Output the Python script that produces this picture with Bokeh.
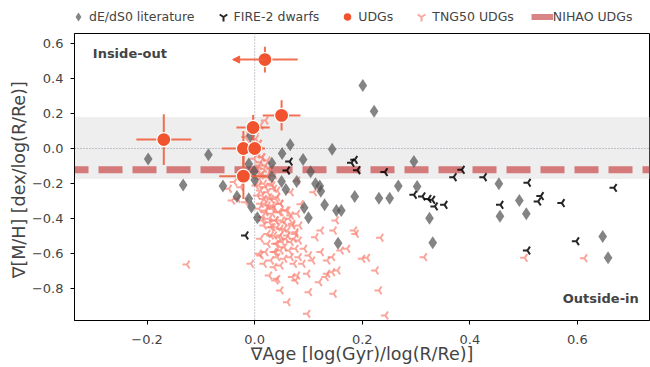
import numpy as np
from bokeh.plotting import figure
from bokeh.layouts import column
from bokeh.models import (ColumnDataSource, BoxAnnotation, Span, Label, Legend, LegendItem,
                          FixedTicker, Arrow, NormalHead)
from bokeh.embed import file_html
from bokeh.resources import INLINE

# ---------------- data ----------------
lit_x = [-0.198, -0.133, -0.086, -0.059, -0.033, -0.011, -0.006, 0.005, -0.008, -0.011,
         0.000, 0.032, 0.051, 0.066, 0.090, 0.104, 0.032, 0.050, 0.078, 0.058,
         0.113, 0.121, 0.123, 0.130, 0.100, 0.092, 0.152, 0.161, 0.155, 0.144,
         0.201, 0.222, 0.186, 0.231, 0.251, 0.267, 0.296, 0.302, 0.325, 0.331,
         0.454, 0.456, 0.492, 0.505, 0.647, 0.657, -0.001]
lit_y = [-0.060, -0.208, -0.036, -0.215, -0.275, -0.287, -0.335, -0.396, 0.072, -0.088,
         -0.180, -0.084, -0.028, 0.022, -0.063, -0.133, -0.162, -0.189, -0.188, -0.235,
         -0.202, -0.215, -0.244, -0.322, -0.396, -0.339, -0.354, -0.354, -0.541, -0.004,
         0.360, 0.213, -0.274, -0.285, -0.285, -0.215, -0.074, -0.217, -0.398, -0.539,
         -0.202, -0.387, -0.297, -0.373, -0.503, -0.625, -0.131]

fire_x = [0.065, 0.060, 0.180, 0.186, 0.191, -0.017, 0.242, 0.296, 0.312, 0.323,
          0.330, 0.335, 0.353, 0.385, 0.370, 0.426, 0.457, 0.508, 0.668, 0.532,
          0.527, 0.571, 0.598, 0.507]
fire_y = [-0.075, -0.126, -0.082, -0.065, -0.124, -0.497, -0.135, -0.265, -0.274, -0.288,
          -0.293, -0.331, -0.322, -0.122, -0.164, -0.164, -0.322, -0.196, -0.225, -0.272,
          -0.303, -0.312, -0.530, -0.583]

tng_x = [-0.017, -0.007, 0.002, 0.008, -0.004, 0.005, 0.014, -0.001, 0.011, 0.020,
         0.005, -0.004, 0.014, 0.024, 0.008, 0.017, 0.030, 0.002, 0.011, 0.024,
         0.036, 0.005, 0.017, 0.030, 0.042, 0.011, 0.024, 0.036, 0.048, 0.020,
         0.033, 0.048, 0.061, 0.014, 0.027, 0.039, 0.051, 0.064, 0.030, 0.042,
         0.055, 0.070, 0.024, 0.036, 0.048, 0.061, 0.076, 0.011, 0.024, 0.039,
         0.051, 0.067, 0.082, 0.008, 0.020, 0.036, 0.048, 0.064, 0.076, 0.092,
         0.030, 0.042, 0.055, 0.067, 0.082, 0.101, 0.017, 0.036, 0.048, 0.073,
         0.089, 0.107, 0.123, 0.135, 0.144, 0.160, 0.027, 0.042, 0.070, 0.079,
         0.098, 0.135, 0.144, 0.154, 0.039, 0.076, 0.120, 0.132, 0.048, 0.101,
         0.147, 0.061, 0.098, 0.225, 0.231, 0.200, 0.209, 0.185, 0.188, 0.172,
         0.151, 0.147, 0.123, 0.113, -0.007, 0.011, -0.038, -0.032, -0.126, -0.017, -0.042,
         0.002, 0.011, 0.020, -0.004, 0.008, 0.005, 0.014, 0.024, 0.008, 0.017,
         0.030, 0.011, 0.024, 0.036, 0.008, 0.020, 0.033, 0.042, 0.014, 0.027,
         0.039, 0.020, 0.033, 0.048, -0.048, -0.026,
         0.008, 0.020, 0.033, 0.045, 0.058, 0.067, 0.079, 0.014, 0.027, 0.039,
         0.055, 0.070, 0.083, 0.017, 0.033, 0.048, 0.061, 0.076, 0.030, 0.045,
         0.058, 0.073, 0.042, 0.055, 0.039,
         0.079, 0.067, 0.110, 0.086, 0.234, 0.243, 0.502, 0.613, 0.315]
tng_y = [0.065, 0.093, 0.055, 0.027, 0.008, -0.021, -0.050, -0.059, -0.078, -0.097,
         -0.116, -0.145, -0.145, -0.154, -0.173, -0.202, -0.202, -0.211, -0.240, -0.250,
         -0.230, -0.269, -0.288, -0.288, -0.278, -0.316, -0.326, -0.335, -0.316, -0.364,
         -0.373, -0.364, -0.354, -0.411, -0.421, -0.411, -0.411, -0.402, -0.450, -0.450,
         -0.459, -0.440, -0.488, -0.497, -0.497, -0.497, -0.488, -0.516, -0.545, -0.545,
         -0.535, -0.535, -0.526, -0.602, -0.592, -0.592, -0.583, -0.583, -0.573, -0.573,
         -0.640, -0.621, -0.630, -0.621, -0.621, -0.611, -0.659, -0.678, -0.669, -0.659,
         -0.659, -0.640, -0.592, -0.640, -0.621, -0.583, -0.726, -0.745, -0.735, -0.726,
         -0.716, -0.716, -0.707, -0.697, -0.754, -0.754, -0.764, -0.735, -0.811, -0.821,
         -0.830, -0.878, -0.945, -0.697, -0.811, -0.630, -0.625, -0.469, -0.488, -0.573,
         -0.411, -0.469, -0.469, -0.507, -0.659, -0.611, -0.192, -0.288, -0.663, -0.307, -0.297,
         0.103, 0.131, 0.160, 0.036, 0.027, -0.030, -0.050, -0.069, -0.097, -0.116,
         -0.116, -0.154, -0.164, -0.154, -0.211, -0.221, -0.211, -0.240, -0.269, -0.278,
         -0.288, -0.316, -0.326, -0.316, -0.230, -0.221,
         -0.345, -0.354, -0.345, -0.364, -0.354, -0.383, -0.373, -0.392, -0.402, -0.411,
         -0.421, -0.430, -0.440, -0.440, -0.450, -0.459, -0.469, -0.478, -0.497, -0.507,
         -0.516, -0.516, -0.545, -0.564, -0.592,
         -0.183, -0.250, -0.250, -0.318, -0.510, -0.954, -0.625, -0.627, -0.621]

udg_x = [0.019, -0.169, 0.050, -0.003, -0.021, 0.000, -0.021]
udg_y = [0.508, 0.051, 0.189, 0.120, 0.000, 0.000, -0.158]
udg_xerr_lo = [0.060, 0.051, 0.035, 0.031, 0.040, 0.015, 0.045]
udg_xerr_hi = [0.061, 0.051, 0.035, 0.031, 0.040, 0.015, 0.045]
udg_yerr = [0.074, 0.145, 0.086, 0.072, 0.100, 0.020, 0.130]
udg_xupper = [True, False, False, False, False, False, False]

nihao_y = -0.122
band_lo, band_hi = -0.175, 0.18

x_ticks = [-0.2, 0.0, 0.2, 0.4, 0.6]
x_tick_labels = ["\u22120.2", "0.0", "0.2", "0.4", "0.6"]
y_ticks = [-0.8, -0.6, -0.4, -0.2, 0.0, 0.2, 0.4, 0.6]
y_tick_labels = ["\u22120.8", "\u22120.6", "\u22120.4", "\u22120.2", "0.0", "0.2", "0.4", "0.6"]

series_labels = ["dE/dS0 literature", "FIRE-2 dwarfs", "UDGs", "TNG50 UDGs", "NIHAO UDGs"]

# ---------------- styles ----------------
FONT = "DejaVu Sans"
ecol = "#f0603e"
TNG_STYLE = dict(marker="y", angle=-np.pi / 2, size=9, line_color="salmon", line_alpha=0.7, line_width=2)
LIT_STYLE = dict(marker="diamond", size=13, fill_color="#555555", fill_alpha=0.72, line_color=None)
FIRE_STYLE = dict(marker="y", angle=-np.pi / 2, size=9, line_color="black", line_alpha=0.85, line_width=2)
UDG_STYLE = dict(marker="circle", size=14, fill_color="#f0532e", line_color="white", line_width=1.2)
NIHAO_STYLE = dict(line_color="indianred", line_alpha=0.75, line_width=6)

# ---------------- main figure ----------------
p = figure(frame_width=575, frame_height=287, x_range=(-0.335, 0.734), y_range=(-0.983, 0.657),
           output_backend="svg", toolbar_location=None,
           min_border_left=74, min_border_right=1, min_border_top=1, min_border_bottom=46)
p.grid.visible = False
p.outline_line_color = "black"
p.outline_line_alpha = 1
p.outline_line_width = 1

p.add_layout(BoxAnnotation(bottom=band_lo, top=band_hi, fill_color="#eeeeee", fill_alpha=1,
                           line_color=None, level="underlay"))
p.add_layout(Span(location=0, dimension="width", line_color="#8891a0", line_dash="1 2",
                  line_width=1, level="underlay"))
p.add_layout(Span(location=0, dimension="height", line_color="#8891a0", line_dash="1 2",
                  line_width=1, level="underlay"))
p.add_layout(Span(location=nihao_y, dimension="width", line_color="indianred", line_alpha=0.8,
                  line_width=7, line_dash="24 10", line_dash_offset=10, level="underlay"))

p.scatter(tng_x, tng_y, **TNG_STYLE)
p.scatter(lit_x, lit_y, **LIT_STYLE)
p.scatter(fire_x, fire_y, **FIRE_STYLE)

ux = np.array(udg_x); uy = np.array(udg_y)
lo = np.array(udg_xerr_lo); hi = np.array(udg_xerr_hi); ye = np.array(udg_yerr)
lim = np.array(udg_xupper)
p.segment(x0=np.where(lim, ux, ux - lo), y0=uy, x1=ux + hi, y1=uy,
          line_color=ecol, line_width=2, line_alpha=0.9)
p.segment(x0=ux, y0=uy - ye, x1=ux, y1=uy + ye, line_color=ecol, line_width=2, line_alpha=0.9)
arr_src = ColumnDataSource(dict(xs=ux[lim], ys=uy[lim], xe=(ux - lo)[lim]))
p.add_layout(Arrow(end=NormalHead(size=7, fill_color=ecol, line_color=ecol),
                   x_start="xs", y_start="ys", x_end="xe", y_end="ys", source=arr_src,
                   line_color=ecol, line_width=2, line_alpha=0.9, level="glyph"))
p.scatter(udg_x, udg_y, **UDG_STYLE)

p.add_layout(Label(x=-0.301, y=0.543, text="Inside-out", text_font=FONT, text_font_style="bold",
                   text_font_size="13px", text_baseline="middle"))
p.add_layout(Label(x=0.714, y=-0.857, text="Outside-in", text_font=FONT, text_font_style="bold",
                   text_font_size="13px", text_baseline="middle", text_align="right"))

p.xaxis.ticker = FixedTicker(ticks=x_ticks)
p.xaxis.major_label_overrides = dict(zip(x_ticks, x_tick_labels))
p.yaxis.ticker = FixedTicker(ticks=y_ticks)
p.yaxis.major_label_overrides = dict(zip(y_ticks, y_tick_labels))
p.xaxis.axis_label = "\u2207Age [log(Gyr)/log(R/Re)]"
p.yaxis.axis_label = "\u2207[M/H]  [dex/log(R/Re)]"
for ax in (p.xaxis, p.yaxis):
    ax.axis_label_text_font = FONT
    ax.axis_label_text_font_style = "normal"
    ax.axis_label_text_font_size = "17.5px"
    ax.major_label_text_font = FONT
    ax.major_label_text_font_size = "13px"
    ax.minor_tick_line_color = None
    ax.major_tick_in = 0
    ax.major_tick_out = 4
    ax.axis_line_color = "black"
    ax.major_tick_line_color = "black"
p.xaxis.major_label_standoff = 10
p.xaxis.axis_label_standoff = -3
p.yaxis.major_label_standoff = 7
p.yaxis.axis_label_standoff = 0

# ---------------- legend strip ----------------
lf = figure(width=650, height=32, x_range=(0, 1), y_range=(0, 1), output_backend="svg",
            toolbar_location=None, min_border=0, x_axis_location=None, y_axis_location=None)
lf.grid.visible = False
lf.outline_line_color = None
r_lit = lf.scatter(lit_x, lit_y, visible=False, **LIT_STYLE)
r_fire = lf.scatter(fire_x, fire_y, visible=False, **FIRE_STYLE)
r_udg = lf.scatter(udg_x, udg_y, visible=False, **UDG_STYLE)
r_tng = lf.scatter(tng_x, tng_y, visible=False, **TNG_STYLE)
r_nihao = lf.line(x=[0, 1], y=[nihao_y, nihao_y], visible=False, **NIHAO_STYLE)
legend = Legend(items=[LegendItem(label=lab, renderers=[r]) for lab, r in
                       zip(series_labels, [r_lit, r_fire, r_udg, r_tng, r_nihao])],
                orientation="horizontal", location=(-7, 3), border_line_color=None,
                background_fill_alpha=0, label_text_font=FONT, label_text_font_size="12.5px",
                glyph_width=22, glyph_height=25, label_standoff=0, spacing=17, padding=0, margin=0,
                inactive_fill_alpha=0)
lf.add_layout(legend)

layout = column(lf, p, spacing=0)
open("out.html", "w").write(file_html(layout, INLINE))
